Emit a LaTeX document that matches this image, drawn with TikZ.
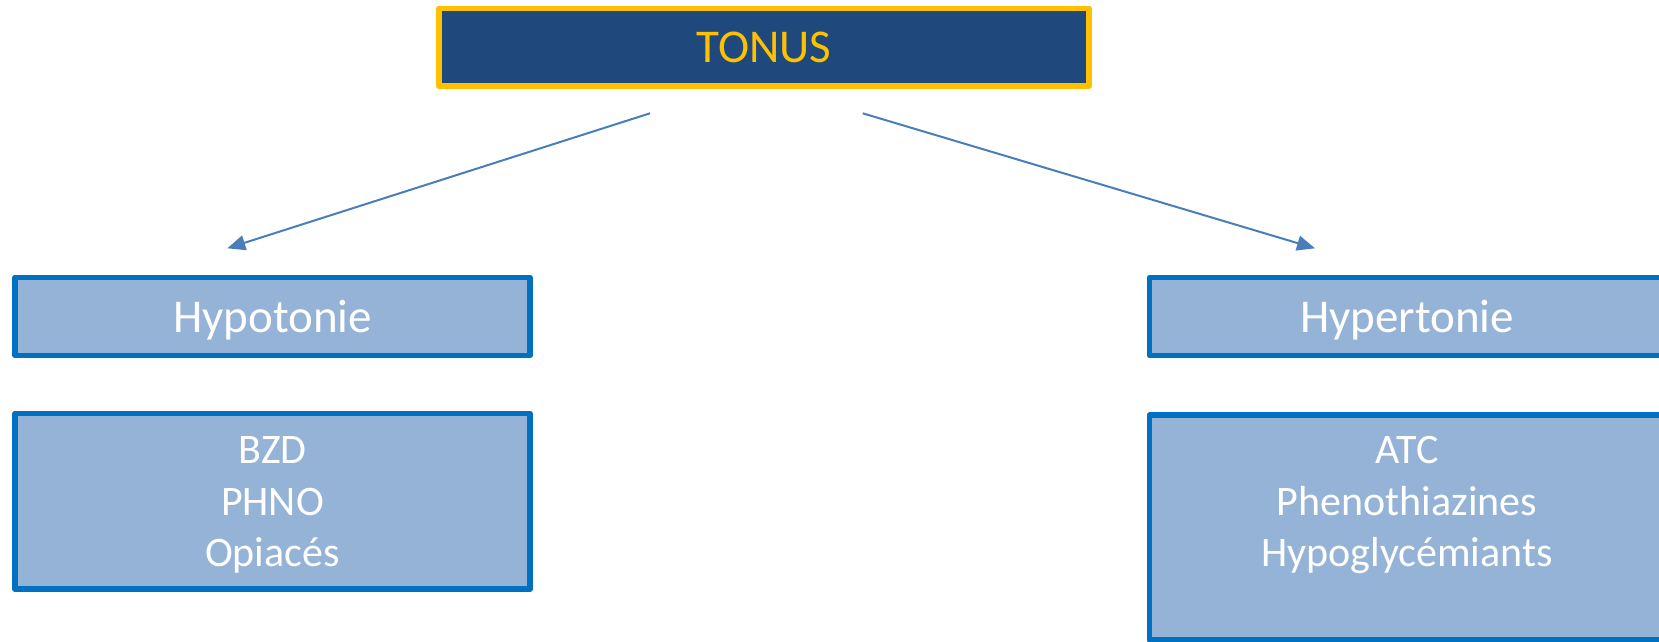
\documentclass[tikz,border=0pt]{standalone}
\usepackage{fontspec}
\setmainfont{Carlito}
\usetikzlibrary{arrows.meta}
\definecolor{navy}{HTML}{1F497D}
\definecolor{gold}{HTML}{FFC000}
\definecolor{paleblue}{HTML}{95B3D7}
\definecolor{edgeblue}{HTML}{0070C0}
\definecolor{arrowblue}{HTML}{4A7EBB}

\begin{document}
\begin{tikzpicture}[x=1pt,y=-1pt,
  titlebox/.style={draw=gold, fill=navy, text=gold, line width=5.7pt, line join=round,
    inner sep=0pt, minimum width=650pt, minimum height=77.5pt,
    text height=31pt, text depth=0pt,
    font=\fontsize{47}{56}\selectfont},
  headbox/.style={draw=edgeblue, fill=paleblue, text=white, line width=5.5pt, line join=round,
    inner sep=0pt, minimum width=515pt, minimum height=78pt,
    text height=31pt, text depth=0pt,
    font=\fontsize{47}{56}\selectfont},
  listbox/.style={draw=edgeblue, fill=paleblue, line width=5.5pt, line join=round,
    inner sep=0pt, minimum width=515pt},
  listtext/.style={text=white, align=center, inner sep=0pt,
    font=\fontsize{42}{51.5}\selectfont},
  link/.style={draw=arrowblue, line width=2pt, -{Triangle[length=18pt,width=15pt]}}
]
\fill[white] (0,0) rectangle (1659,641);
\clip (0,0) rectangle (1659,641);

% title
\node[titlebox] (tonus) at (764,47.25) {TONUS};

% left branch
\node[headbox] (hypo) at (272.5,316.5) {Hypotonie};
\node[listbox, minimum height=175.5pt] (hypobox) at (272.5,501.25) {};
\node[listtext] (hypolist) at ([yshift=-4pt]hypobox.center)
  {BZD\\PHNO\\Opiacés};

% right branch
\node[headbox] (hyper) at (1407,316.5) {Hypertonie};
\node[listbox, minimum height=225pt] (hyperbox) at (1407,527.5) {};
\node[listtext] (hyperlist) at (hyperbox.center |- hypolist.center)
  {ATC\\Phenothiazines\\Hypoglycémiants};

% connectors
\coordinate (ls) at (650,113.3);
\coordinate (le) at (227.3,248.3);
\coordinate (rs) at (862.7,113.3);
\coordinate (re) at (1315,248.3);
\draw[link] (ls) -- (le);
\draw[link] (rs) -- (re);
\end{tikzpicture}
\end{document}
